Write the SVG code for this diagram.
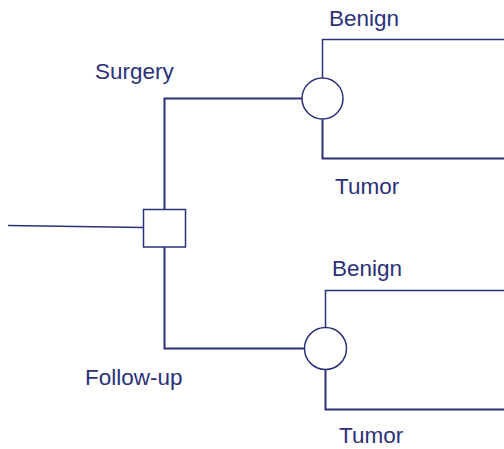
<svg xmlns="http://www.w3.org/2000/svg" width="504" height="449" viewBox="0 0 504 449">
<style>
.ln{fill:none;stroke:#2b3178;stroke-width:2}
.thin{fill:none;stroke:#2b3178;stroke-width:1.5}
.nd{fill:#fff;stroke:#2b3178;stroke-width:1.5}
.lb{font-family:"Liberation Sans",Arial,sans-serif;font-size:22.5px;fill:#2b3178}
</style>
<rect width="504" height="449" fill="#fff"/>
<g id="connectors">
<path class="thin" d="M8 225.5 L143.5 227.5"/>
<path class="ln" d="M164.5 209 V98.5 H302"/>
<path class="ln" d="M164.5 247 V348.5 H304.5"/>
<path class="thin" d="M322.5 78 V39.5 H504"/>
<path class="ln" d="M322.5 119.5 V158.5 H504"/>
<path class="thin" d="M325.5 327.5 V290.5 H504"/>
<path class="ln" d="M325.5 369.5 V409.5 H504"/>
</g>
<g id="decision"><rect class="nd" x="143.5" y="209.5" width="42" height="37.5"/></g>
<g id="chance1"><circle class="nd" cx="322.5" cy="98.5" r="20.5"/></g>
<g id="chance2"><circle class="nd" cx="325.5" cy="348.5" r="21"/></g>
<g id="labels">
<text class="lb" x="95" y="79">Surgery</text>
<text class="lb" x="85" y="385">Follow-up</text>
<text class="lb" x="329" y="26">Benign</text>
<text class="lb" x="335" y="194">Tumor</text>
<text class="lb" x="332" y="276">Benign</text>
<text class="lb" x="339" y="443">Tumor</text>
</g>
</svg>
